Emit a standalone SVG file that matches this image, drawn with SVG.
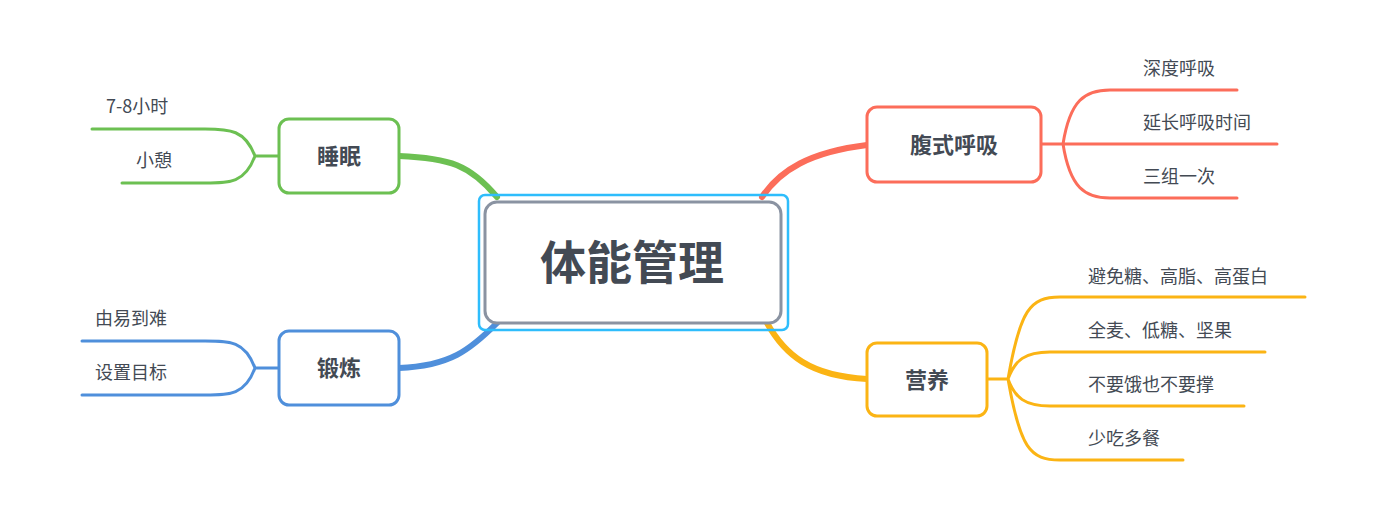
<svg xmlns="http://www.w3.org/2000/svg" width="1395" height="522" viewBox="0 0 1395 522">
<style>
text{font-family:"Noto Sans CJK SC","Noto Sans",sans-serif;fill:#434a54}
.l{font-size:18px}
.b{font-size:22px;font-weight:bold;text-anchor:middle}
.box{fill:#fff;stroke-width:3}
path{fill:none;stroke-width:3;stroke-linecap:round}
.t{stroke-width:6}
</style>
<rect width="1395" height="522" fill="#fff"/>
<g id="connectors">
<path class="t" stroke="#6cc052" d="M399,156 C450,158 470,165 497,197"/>
<path class="t" stroke="#4f8fdb" d="M399,368 C450,366 470,350 497,323"/>
<path class="t" stroke="#fc6d5a" d="M867,145 C810,152 780,170 762,197"/>
<path class="t" stroke="#fbb414" d="M867,379 C810,376 785,355 767,323"/>
<path stroke="#6cc052" d="M279,156 H255 M255,156 C245,130 230,129 205,129 H92 M255,156 C245,183 230,183 205,183 H122"/>
<path stroke="#4f8fdb" d="M279,368 H255 M255,368 C245,341 230,341 205,341 H82 M255,368 C245,395 230,395 205,395 H82"/>
<path stroke="#fc6d5a" d="M1041,144 H1063 M1063,144 C1070,100 1085,90 1110,90 H1237 M1063,144 H1277 M1063,144 C1070,188 1085,198 1110,198 H1237"/>
<path stroke="#fbb414" d="M987,379 H1008 M1008,379 C1020,310 1030,297 1060,297 H1305 M1008,379 C1015,360 1025,352 1050,352 H1265 M1008,379 C1015,398 1025,406 1050,406 H1244 M1008,379 C1020,448 1030,460 1060,460 H1183"/>
</g>
<g id="center">
<rect x="479" y="195" width="309" height="135" rx="6" fill="none" stroke="#2ebdfc" stroke-width="2.5"/>
<rect x="485" y="202" width="296" height="121" rx="12" class="box" stroke="#8a93a2" stroke-width="5"/>
<text x="632" y="279" text-anchor="middle" font-size="46" font-weight="bold">体能管理</text>
</g>
<g id="sleep">
<rect x="279" y="119" width="120" height="74" rx="10" class="box" stroke="#6cc052"/>
<text class="b" x="339" y="164">睡眠</text>
<text class="l" x="106" y="113">7-8小时</text>
<text class="l" x="136" y="167">小憩</text>
</g>
<g id="exercise">
<rect x="279" y="331" width="120" height="74" rx="10" class="box" stroke="#4f8fdb"/>
<text class="b" x="339" y="376">锻炼</text>
<text class="l" x="95" y="325">由易到难</text>
<text class="l" x="95" y="379">设置目标</text>
</g>
<g id="breath">
<rect x="867" y="107" width="174" height="75" rx="10" class="box" stroke="#fc6d5a"/>
<text class="b" x="954" y="153">腹式呼吸</text>
<text class="l" x="1143" y="75">深度呼吸</text>
<text class="l" x="1143" y="129">延长呼吸时间</text>
<text class="l" x="1143" y="183">三组一次</text>
</g>
<g id="nutrition">
<rect x="867" y="343" width="120" height="73" rx="10" class="box" stroke="#fbb414"/>
<text class="b" x="927" y="388">营养</text>
<text class="l" x="1088" y="283">避免糖、高脂、高蛋白</text>
<text class="l" x="1088" y="337">全麦、低糖、坚果</text>
<text class="l" x="1088" y="391">不要饿也不要撑</text>
<text class="l" x="1088" y="445">少吃多餐</text>
</g>
</svg>
